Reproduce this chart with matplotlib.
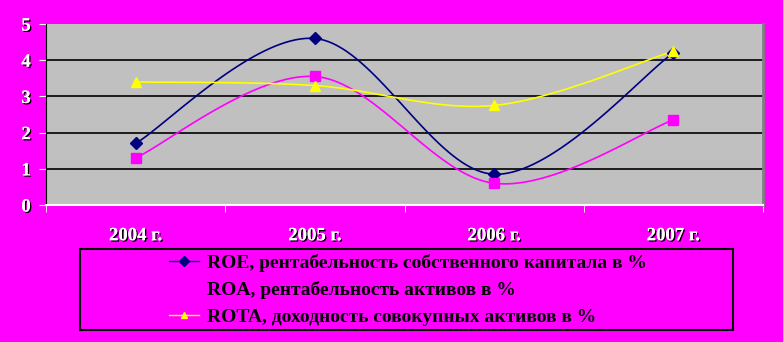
import matplotlib.pyplot as plt
import matplotlib.patheffects as pe
from matplotlib.patches import Rectangle
import numpy as np

years = ["2004 г.", "2005 г.", "2006 г.", "2007 г."]
roe = [1.7, 4.6, 0.85, 4.2]
roa = [1.3, 3.55, 0.6, 2.35]
rota = [3.4, 3.3, 2.75, 4.25]

labels = ["ROE, рентабельность собственного капитала в %",
          "ROA, рентабельность активов в %",
          "ROTA, доходность совокупных активов в %"]
colors = ["#000080", "#FF00FF", "#FFFF00"]
markers = ["D", "s", "^"]

BG = "#FF00FF"
plt.rcParams['font.family'] = ['Liberation Serif', 'DejaVu Serif']
plt.rcParams['font.weight'] = 'bold'


def smooth(x, y, n=40):
    # Excel-like smoothed line: Catmull-Rom bezier through the points
    x = np.asarray(x, float)
    y = np.asarray(y, float)
    px = np.concatenate([[x[0]], x, [x[-1]]])
    py = np.concatenate([[y[0]], y, [y[-1]]])
    xs, ys = [], []
    t = np.linspace(0, 1, n)
    for i in range(1, len(px) - 2):
        p0 = np.array([px[i], py[i]])
        p3 = np.array([px[i + 1], py[i + 1]])
        p1 = p0 + (np.array([px[i + 1], py[i + 1]]) - np.array([px[i - 1], py[i - 1]])) / 6
        p2 = p3 - (np.array([px[i + 2], py[i + 2]]) - np.array([px[i], py[i]])) / 6
        b = ((1 - t) ** 3)[:, None] * p0 + (3 * (1 - t) ** 2 * t)[:, None] * p1 \
            + (3 * (1 - t) * t ** 2)[:, None] * p2 + (t ** 3)[:, None] * p3
        xs.extend(b[:, 0])
        ys.extend(b[:, 1])
    return xs, ys


shadow = [pe.withSimplePatchShadow(offset=(1, -1), shadow_rgbFace='black', alpha=1.0), pe.Normal()]
FS = 13.5

fig = plt.figure(figsize=(7.83, 3.42), dpi=100, facecolor=BG)
ax = fig.add_axes([46 / 783, 1 - 205 / 342, 717 / 783, 181 / 342])
ax.set_facecolor("#C0C0C0")

x = np.arange(len(years))
for vals, c, m, lab in zip([roe, roa, rota], colors, markers, labels):
    sx, sy = smooth(x, vals)
    ax.plot(sx, sy, color=c, lw=1.2, zorder=3)
    ax.plot(x, vals, ls='none', marker=m, color=c, ms=6 if m == "D" else 7, zorder=4)
    ax.plot([], [], color=c, marker=m, ms=5, lw=1.0, label=lab)

ax.set_xlim(-0.5, 3.5)
ax.set_ylim(0, 5)
ax.set_yticks(range(6))
for yv in range(1, 5):
    ax.axhline(yv, color='black', lw=1.2, zorder=1)

ax.set_xticks(x)
ax.set_xticklabels(years)
ax.set_xticks(np.arange(-0.5, 4, 1), minor=True)
ax.tick_params(axis='x', which='major', length=0, pad=16)
ax.tick_params(axis='x', which='minor', length=5, color='white', direction='out')
ax.tick_params(axis='y', length=5, color='white', pad=6)
for t in ax.get_xticklabels() + ax.get_yticklabels():
    t.set_color('white')
    t.set_fontsize(FS)
    t.set_fontweight('bold')
    t.set_path_effects(shadow)

ax.spines['top'].set_visible(False)
ax.spines['bottom'].set_color('white')
ax.spines['bottom'].set_linewidth(1.5)
ax.spines['left'].set_color('black')
ax.spines['right'].set_color('#808080')
ax.spines['right'].set_linewidth(2)

fig.patches.append(Rectangle((80 / 783, 1 - 330 / 342), 653 / 783, 81 / 342,
                             transform=fig.transFigure, fill=False, ec='black', lw=1.5))
leg = fig.legend(loc='center', bbox_to_anchor=(408 / 783, 1 - 290 / 342), frameon=False,
                 handlelength=1.55, handletextpad=0.4, labelspacing=0.48,
                 prop={'weight': 'bold', 'size': 14})

fig.savefig("out.png", dpi=100, facecolor=BG)
